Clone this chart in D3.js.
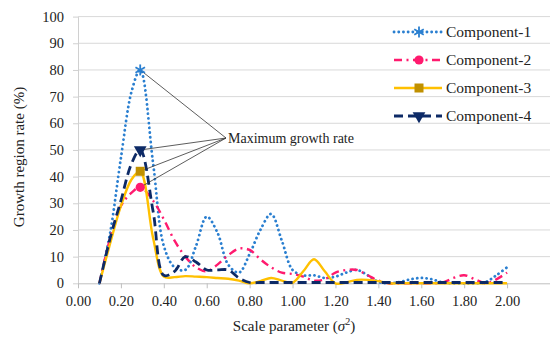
<!DOCTYPE html>
<html>
<head>
<meta charset="utf-8">
<script src="https://cdn.jsdelivr.net/npm/d3@7"></script>
<style>
  html, body { margin: 0; padding: 0; background: #fff; }
  svg { display: block; }
  svg text { font-family: "Liberation Serif", "Times New Roman", Times, "DejaVu Serif", serif; fill: #222; }
</style>
</head>
<body>
<svg id="chart" width="550" height="339"></svg>
<script>
// Scale parameter (sigma^2) sample points
const scaleParams = [0.10, 0.15, 0.20, 0.25, 0.29, 0.35, 0.40, 0.45, 0.50, 0.55,
  0.60, 0.65, 0.70, 0.75, 0.80, 0.85, 0.90, 0.95, 1.00, 1.05,
  1.10, 1.15, 1.20, 1.25, 1.30, 1.35, 1.40, 1.45, 1.50, 1.55,
  1.60, 1.65, 1.70, 1.75, 1.80, 1.85, 1.90, 1.95, 2.00];

// Growth region rate (%) per component
const component1 = [0, 19, 47, 72, 80, 45, 14, 6, 5, 14,
  25, 19, 7, 4, 11, 20, 26, 16, 5, 3,
  3, 2, 2.5, 4, 5, 3, 0.5, 0, 0.5, 1.5,
  2, 1.5, 0.3, 0, 0, 0, 0.5, 3, 6];
const component2 = [0, 17, 29, 34, 36, 31, 24, 16, 10, 6,
  4.5, 7, 10.5, 13, 12.5, 9, 6, 4, 3.5, 2.5,
  1, 1.5, 4, 5, 5, 3, 1, 0, 0, 0,
  0, 0, 0.3, 2, 3, 1.5, 0, 1.5, 4];
const component3 = [0, 15, 29, 39, 42, 17, 2.5, 2.3, 2.7, 2.5,
  2.3, 2, 1.7, 1, 0, 0.8, 2, 1, 0.2, 4.5,
  9, 4.5, 0, 0.3, 1.3, 1.3, 0.8, 0, 0, 0,
  0, 0, 0, 0, 0, 0, 0, 0, 0];
const component4 = [0, 17, 31, 45, 50, 27, 3, 4.5, 10, 8,
  5, 5, 5, 2, 0.3, 0.3, 0.3, 0.3, 0.3, 0.3,
  0.3, 0.3, 0.3, 0.3, 0.3, 0.3, 0.3, 0.3, 0.3, 0.3,
  0.3, 0.3, 0.3, 0.3, 0.3, 0.3, 0.3, 0.3, 0.3];

const seriesNames = ["Component-1", "Component-2", "Component-3", "Component-4"];
const xTicks = [0, 0.2, 0.4, 0.6, 0.8, 1.0, 1.2, 1.4, 1.6, 1.8, 2.0];
const yTicks = [0, 10, 20, 30, 40, 50, 60, 70, 80, 90, 100];
const annotationText = "Maximum growth rate";

const FONT = '"Liberation Serif", "Times New Roman", Times, "DejaVu Serif", serif';

const svg = d3.select("#chart");
const x = d3.scaleLinear().domain([0, 2.2]).range([78, 550]);
const y = d3.scaleLinear().domain([0, 100]).range([283.3, 16.6]);

// gridlines
svg.append("g").selectAll("line").data(yTicks.filter(d => d > 0)).join("line")
  .attr("x1", x(0)).attr("x2", 550)
  .attr("y1", d => y(d)).attr("y2", d => y(d))
  .attr("stroke", "#d9d9d9").attr("stroke-width", 1);

// y axis
const yAxis = svg.append("g").attr("transform", `translate(${x(0)},0)`)
  .call(d3.axisLeft(y).tickValues(yTicks).tickSize(5).tickSizeOuter(0).tickPadding(9));
yAxis.attr("font-family", FONT);
yAxis.select(".domain").attr("stroke", "#d0d0d0");
yAxis.selectAll(".tick line").attr("stroke", "#d0d0d0");
yAxis.selectAll(".tick text").attr("font-size", 14.5).style("font-family", FONT).attr("fill", "#222");

// x axis
const xAxis = svg.append("g").attr("transform", `translate(0,${y(0)})`)
  .call(d3.axisBottom(x).tickValues(xTicks).tickFormat(d3.format(".2f"))
    .tickSize(5).tickSizeOuter(0).tickPadding(7));
xAxis.attr("font-family", FONT);
xAxis.select(".domain").attr("stroke", "#bfbfbf");
xAxis.selectAll(".tick line").attr("stroke", "#bfbfbf");
xAxis.selectAll(".tick text").attr("font-size", 14.5).style("font-family", FONT).attr("fill", "#222");

// axis titles
svg.append("text")
  .attr("transform", "translate(24,157) rotate(-90)")
  .attr("text-anchor", "middle").attr("font-size", 15).style("font-family", FONT)
  .text("Growth region rate (%)");

const xt = svg.append("text").attr("x", 294).attr("y", 331)
  .attr("text-anchor", "middle").attr("font-size", 15).style("font-family", FONT);
xt.append("tspan").text("Scale parameter (");
xt.append("tspan").attr("font-style", "italic").text("σ");
xt.append("tspan").attr("font-size", 10).attr("dy", -6).text("2");
xt.append("tspan").attr("dy", 6).text(")");

// series definitions
const styles = [
  { values: component1, color: "#2a7fd0", width: 2.8, dash: "0.1,4.6", cap: "round" },
  { values: component2, color: "#ff1a6e", width: 2.4, dash: "8,4.5,2,4.5", cap: "butt" },
  { values: component3, color: "#ffc000", width: 2.4, dash: null, cap: "butt" },
  { values: component4, color: "#0d2a66", width: 2.8, dash: "9,5", cap: "butt" }
];

const line = d3.line()
  .x((d, i) => x(scaleParams[i]))
  .y(d => y(d))
  .curve(d3.curveCatmullRom.alpha(0.5));

styles.forEach(s => {
  svg.append("path").datum(s.values)
    .attr("d", line)
    .attr("fill", "none")
    .attr("stroke", s.color)
    .attr("stroke-width", s.width)
    .attr("stroke-linecap", s.cap)
    .attr("stroke-linejoin", "round")
    .attr("stroke-dasharray", s.dash);
});

// markers
function drawMarker(g, idx, cx, cy) {
  if (idx === 0) {
    const r = 5.5;
    [90, 30, 150].forEach(a => {
      const rad = a * Math.PI / 180;
      g.append("line")
        .attr("x1", cx - r * Math.cos(rad)).attr("y1", cy - r * Math.sin(rad))
        .attr("x2", cx + r * Math.cos(rad)).attr("y2", cy + r * Math.sin(rad))
        .attr("stroke", "#2a7fd0").attr("stroke-width", 1.8);
    });
  } else if (idx === 1) {
    g.append("circle").attr("cx", cx).attr("cy", cy).attr("r", 4.6).attr("fill", "#ff1a6e");
  } else if (idx === 2) {
    g.append("rect").attr("x", cx - 4.5).attr("y", cy - 4.5).attr("width", 9).attr("height", 9)
      .attr("fill", "#c09000");
  } else {
    g.append("path")
      .attr("d", d3.symbol(d3.symbolTriangle, 70)())
      .attr("transform", `translate(${cx},${cy}) rotate(180)`)
      .attr("fill", "#0d2a66");
  }
}

// annotation leaders to each maximum
const annX = 226, annY = 138;
const peaks = styles.map(s => {
  const i = d3.maxIndex(s.values);
  return { px: x(scaleParams[i]), py: y(s.values[i]) };
});
svg.append("g").selectAll("line").data(peaks).join("line")
  .attr("x1", annX).attr("y1", annY)
  .attr("x2", d => d.px).attr("y2", d => d.py)
  .attr("stroke", "#333").attr("stroke-width", 0.8);

const markerG = svg.append("g");
peaks.forEach((p, i) => drawMarker(markerG, i, p.px, p.py));

svg.append("text").attr("x", 228).attr("y", 142.5)
  .attr("font-size", 14).style("font-family", FONT).text(annotationText);

// legend
const legendYs = [32, 60, 88, 116];
const lg = svg.append("g");
styles.forEach((s, i) => {
  const ly = legendYs[i];
  lg.append("line")
    .attr("x1", 394).attr("x2", 442).attr("y1", ly).attr("y2", ly)
    .attr("stroke", s.color).attr("stroke-width", s.width)
    .attr("stroke-linecap", s.cap)
    .attr("stroke-dasharray", s.dash);
  drawMarker(lg, i, 419, ly);
  lg.append("text").attr("x", 446).attr("y", ly + 5.2)
    .attr("font-size", 15.5).style("font-family", FONT).text(seriesNames[i]);
});
</script>
</body>
</html>
